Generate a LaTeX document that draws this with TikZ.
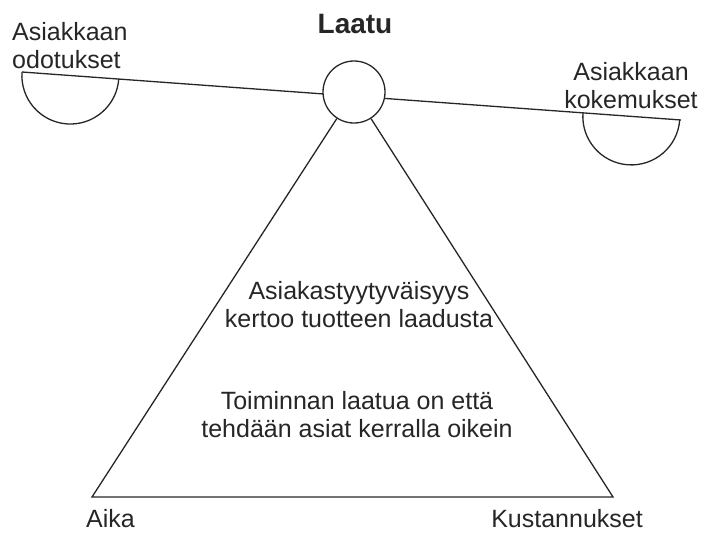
\documentclass[tikz,border=0pt]{standalone}
\usepackage{fontspec}
\setmainfont{Liberation Sans}
\begin{document}
\begin{tikzpicture}[x=1pt,y=-1pt,
  lbl/.style={inner sep=0pt, font=\fontsize{25}{28}\selectfont, text=black!85},
  ln/.style={line width=1.3pt, black!85},
  hub/.style={circle, draw, ln, fill=white, minimum size=62pt, inner sep=0pt}]
\useasboundingbox (0,0) rectangle (701,533);
% beam
\coordinate (L) at (22,72);
\coordinate (R) at (681,120);
\coordinate (RB) at (583,112.9);
\draw[ln] (L) -- (R);
% bowls
\draw[ln, rotate around={-4.17:(L)}] (L) arc[start angle=180, end angle=0, radius=48.5];
\draw[ln, rotate around={-4.17:(RB)}] (RB) arc[start angle=180, end angle=0, radius=48.5];
% hub
\node[hub] (c) at (354,92) {};
% triangle
\coordinate (A) at (92,497);
\coordinate (B) at (613,497);
\draw[ln] (c) -- (A) -- (B) -- (c);
% labels
\node[lbl, anchor=base, font=\fontsize{28}{30}\selectfont\bfseries] (laatu) at (355,33) {Laatu};
\node[lbl, anchor=base west, align=left] (odo) at (12,68) {Asiakkaan\\odotukset};
\node[lbl, anchor=base, align=center] (kok) at (631,108) {Asiakkaan\\kokemukset};
\node[lbl, anchor=base, align=center] (tyy) at (359,327) {Asiakastyytyväisyys\\kertoo tuotteen laadusta};
\node[lbl, anchor=base, align=center] (toi) at (357,437) {Toiminnan laatua on että\\tehdään asiat kerralla oikein};
\node[lbl, anchor=base west] (aika) at (86,527) {Aika};
\node[lbl, anchor=base east] (kus) at (643,527) {Kustannukset};
\end{tikzpicture}
\end{document}
